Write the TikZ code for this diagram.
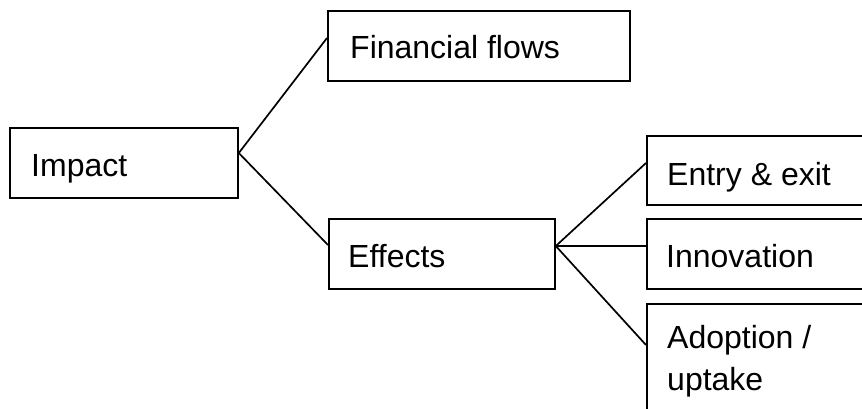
\documentclass[tikz,border=0pt]{standalone}
\usepackage{fontspec}
\setmainfont{Liberation Sans}
\begin{document}
\begin{tikzpicture}[x=1pt,y=-1pt,
  box/.style={draw, line width=1.8pt, anchor=north west, inner sep=0pt},
  lbl/.style={anchor=base west, inner sep=0pt, font=\fontsize{32}{42}\selectfont, align=left},
  conn/.style={line width=1.7pt}]
\useasboundingbox (0,0) rectangle (862,408);
\clip (0,0) rectangle (862,408);
% boxes
\node[box, minimum width=228pt, minimum height=70pt] (impact) at (9,127) {};
\node[box, minimum width=302pt, minimum height=70pt] (ff) at (327,10) {};
\node[box, minimum width=226pt, minimum height=70pt] (effects) at (328,218) {};
\node[box, minimum width=240pt, minimum height=69pt] (entry) at (646,135) {};
\node[box, minimum width=240pt, minimum height=70pt] (innov) at (646,218) {};
\node[box, minimum width=240pt, minimum height=130pt] (adopt) at (646,303) {};
% labels
\node[lbl] (impactT) at (31,176) {Impact};
\node[lbl] (ffT) at (350,58) {Financial flows};
\node[lbl] (effectsT) at (348,267) {Effects};
\node[lbl] (entryT) at (667,185) {Entry \& exit};
\node[lbl] (innovT) at (666,267) {Innovation};
\node[lbl] (adoptT) at (667,390) {Adoption /\\uptake};
% attachment points
\coordinate (impactR) at ([yshift=-26pt]impact.north east);
\coordinate (ffL) at ([yshift=-28pt]ff.north west);
\coordinate (effectsL) at ([yshift=-27pt]effects.north west);
\coordinate (effectsR) at ([yshift=-28pt]effects.north east);
\coordinate (entryL) at ([yshift=-28pt]entry.north west);
\coordinate (innovL) at ([yshift=-28pt]innov.north west);
\coordinate (adoptL) at ([yshift=-42pt]adopt.north west);
% connectors
\draw[conn] (impactR) -- (ffL);
\draw[conn] (impactR) -- (effectsL);
\draw[conn] (effectsR) -- (entryL);
\draw[conn] (effectsR) -- (innovL);
\draw[conn] (effectsR) -- (adoptL);
\end{tikzpicture}
\end{document}
